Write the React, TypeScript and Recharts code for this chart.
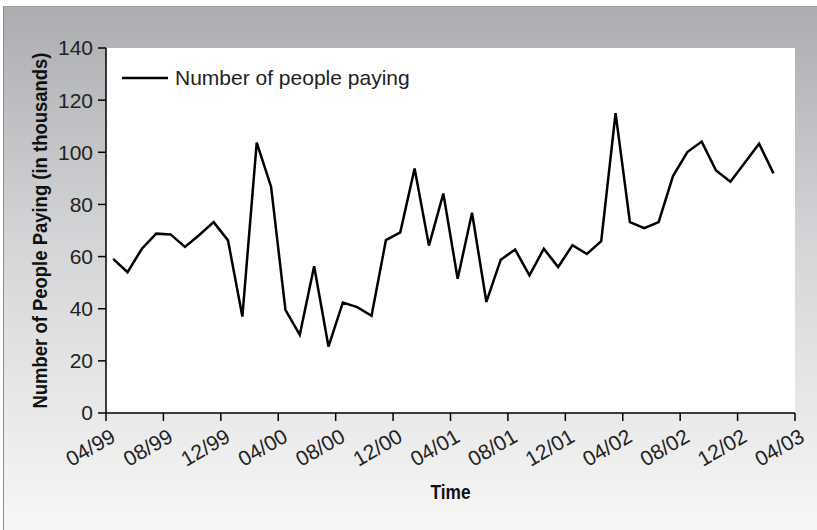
import React from 'react';
import { CartesianGrid, Legend, Line, LineChart, XAxis, YAxis } from 'recharts';

// monthly counts, 04/99 .. 02/03 (thousands)
const payingValues = [
  59.1, 54.0, 63.0, 68.8, 68.5, 63.7, 68.3, 73.2, 66.2, 37.0, 103.7, 86.8,
  39.6, 30.0, 56.3, 25.5, 42.4, 40.6, 37.3, 66.3, 69.3, 93.8, 64.2, 84.2,
  51.5, 76.8, 42.6, 58.8, 62.7, 52.8, 63.0, 56.0, 64.4, 61.0, 65.9, 115.0,
  73.2, 70.9, 73.2, 90.9, 100.1, 104.1, 93.0, 88.7, 96.0, 103.3, 91.9,
];

const monthTicks = [0, 4, 8, 12, 16, 20, 24, 28, 32, 36, 40, 44, 48];
const monthLabels = [
  '04/99', '08/99', '12/99', '04/00', '08/00', '12/00', '04/01',
  '08/01', '12/01', '04/02', '08/02', '12/02', '04/03',
];
const yTicks = [0, 20, 40, 60, 80, 100, 120, 140];

const seriesName = 'Number of people paying';

const data = payingValues.map((v, i) => ({ month: i + 0.5, paying: v }));

const tickFont = '"Liberation Sans", Arial, sans-serif';
const titleFont = '"Liberation Sans Narrow", "Liberation Sans", Arial, sans-serif';

const MonthTick = (props: any) => {
  const { x, y, payload } = props;
  const idx = monthTicks.indexOf(payload.value);
  return (
    <g transform={`translate(${x + 3},${y + 4})`}>
      <text
        transform="rotate(-30)"
        textAnchor="end"
        dy="0.75em"
        fontSize={21}
        fontFamily={tickFont}
        fill="#222"
      >
        {monthLabels[idx]}
      </text>
    </g>
  );
};

const YTitle = (props: any) => {
  const { viewBox } = props;
  const cx = 40;
  const cy = viewBox.y + viewBox.height / 2;
  return (
    <text
      x={cx}
      y={cy}
      transform={`rotate(-90, ${cx}, ${cy})`}
      textAnchor="middle"
      dominantBaseline="central"
      fontSize={20}
      fontWeight="bold"
      fontFamily={titleFont}
      textLength={356}
      lengthAdjust="spacingAndGlyphs"
      fill="#111"
    >
      Number of People Paying (in thousands)
    </text>
  );
};

const XTitle = (props: any) => {
  const { viewBox } = props;
  return (
    <text
      x={viewBox.x + viewBox.width / 2}
      y={499}
      textAnchor="middle"
      fontSize={20}
      fontWeight="bold"
      fontFamily={titleFont}
      textLength={40}
      lengthAdjust="spacingAndGlyphs"
      fill="#111"
    >
      Time
    </text>
  );
};

const LegendBox = () => (
  <div style={{ display: 'flex', alignItems: 'center' }}>
    <svg width={50} height={10}>
      <line x1={2} y1={5} x2={48} y2={5} stroke="#000" strokeWidth={2.5} />
    </svg>
    <span style={{ fontFamily: tickFont, fontSize: 21, color: '#222', marginLeft: 5 }}>
      {seriesName}
    </span>
  </div>
);

export default function App() {
  return (
    <div style={{ position: 'absolute', left: 0, top: 0, width: 817, height: 530, background: '#fff' }}>
      <div
        style={{
          position: 'absolute',
          left: 3,
          top: 6,
          width: 814,
          height: 524,
          borderLeft: '1px solid #8c8d90',
          borderTop: '1px solid #9c9da0',
          background: 'linear-gradient(to bottom, #acadb0 0%, #d4d5d7 45%, #f7f7f7 100%)',
        }}
      />
      <div style={{ position: 'absolute', left: 0, top: 0 }}>
        <LineChart width={817} height={530} data={data} margin={{ top: 48, right: 22, left: 0, bottom: 0 }}>
          <CartesianGrid horizontal={false} vertical={false} fill="#fff" />
          <XAxis
            type="number"
            dataKey="month"
            domain={[0, 48]}
            ticks={monthTicks}
            interval={0}
            height={117}
            tick={<MonthTick />}
            tickSize={8}
            axisLine={{ stroke: '#000', strokeWidth: 1.5 }}
            tickLine={{ stroke: '#000', strokeWidth: 1.5 }}
            label={<XTitle />}
          />
          <YAxis
            domain={[0, 140]}
            ticks={yTicks}
            interval={0}
            width={106}
            tickSize={8}
            tickMargin={5}
            tick={{ fill: '#222', fontSize: 21, fontFamily: tickFont }}
            axisLine={{ stroke: '#000', strokeWidth: 1.5 }}
            tickLine={{ stroke: '#000', strokeWidth: 1.5 }}
            label={<YTitle />}
          />
          <Legend
            layout="vertical"
            align="center"
            verticalAlign="middle"
            wrapperStyle={{ left: 120, top: 66, width: 'auto' }}
            content={<LegendBox />}
          />
          <Line
            type="linear"
            dataKey="paying"
            name={seriesName}
            stroke="#000"
            strokeWidth={2.5}
            dot={false}
            isAnimationActive={false}
          />
        </LineChart>
      </div>
    </div>
  );
}
